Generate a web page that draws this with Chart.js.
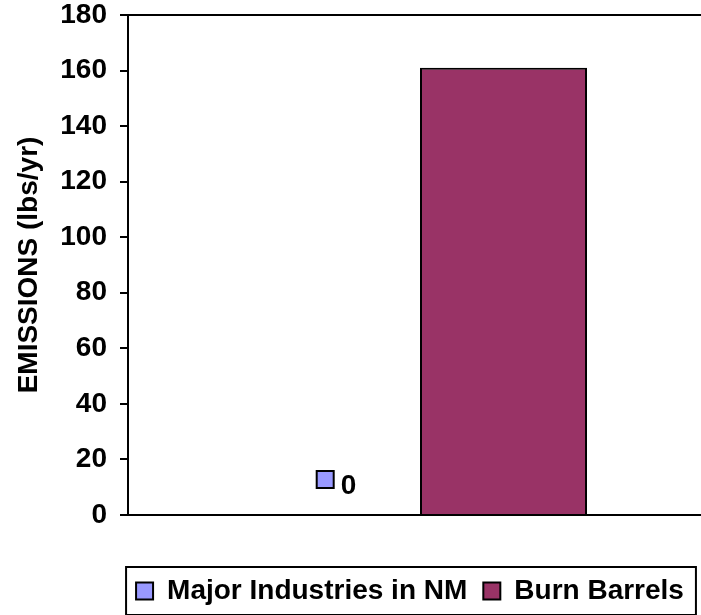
<!DOCTYPE html>
<html>
<head>
<meta charset="utf-8">
<script src="https://cdn.jsdelivr.net/npm/chart.js@4"></script>
<style>
  body { margin: 0; background: #fff; overflow: hidden; }
</style>
</head>
<body>
<canvas id="myChart" width="712" height="615"></canvas>
<script>
// chart values
var categories = [''];
var seriesNames = ['Major Industries in NM', 'Burn Barrels'];
var industries = [0];
var burnBarrels = [161];
var yTicks = [0, 20, 40, 60, 80, 100, 120, 140, 160, 180];

var boldFont = 'Arial, "Liberation Sans", sans-serif';

// label "0" with its small key, above the first bar
const valueLabel = {
    id: 'valueLabel',
    afterDatasetsDraw(chart) {
        const ctx = chart.ctx;
        const bar = chart.getDatasetMeta(0).data[0];
        const val = chart.data.datasets[0].data[0];
        ctx.save();
        ctx.font = 'bold 28px ' + boldFont;
        const text = String(val);
        const tw = ctx.measureText(text).width;
        const key = 17, gap = 7;
        const total = key + gap + tw;
        const x0 = bar.x - total / 2;
        ctx.fillStyle = chart.data.datasets[0].backgroundColor;
        ctx.fillRect(x0, bar.y - 44, key, key);
        ctx.strokeStyle = '#000';
        ctx.lineWidth = 2;
        ctx.strokeRect(x0, bar.y - 44, key, key);
        ctx.fillStyle = '#000';
        ctx.textBaseline = 'middle';
        ctx.textAlign = 'left';
        ctx.fillText(text, x0 + key + gap, bar.y - 29);
        ctx.restore();
    }
};

// move the legend a bit and draw its frame
const legendFrame = {
    id: 'legendFrame',
    afterLayout(chart) {
        const lg = chart.legend;
        lg.left -= 10;
        lg.right -= 10;
    },
    afterDraw(chart) {
        const lg = chart.legend;
        const boxes = lg.legendHitBoxes;
        if (!boxes || !boxes.length) return;
        const first = boxes[0], last = boxes[boxes.length - 1];
        const cy = first.top + first.height / 2;
        const ctx = chart.ctx;
        ctx.save();
        ctx.strokeStyle = '#000';
        ctx.lineWidth = 2;
        ctx.strokeRect(first.left - 10, cy - 24, last.left + last.width - first.left + 22, 48);
        ctx.restore();
    }
};

const ctx = document.getElementById('myChart').getContext('2d');
const myChart = new Chart(ctx, {
    type: 'bar',
    data: {
        labels: categories,
        datasets: [
            {
                label: seriesNames[0],
                data: industries,
                backgroundColor: '#9999FF',
                borderColor: '#000000',
                borderWidth: 2
            },
            {
                label: seriesNames[1],
                data: burnBarrels,
                backgroundColor: '#993366',
                borderColor: '#000000',
                borderWidth: 2
            }
        ]
    },
    options: {
        responsive: false,
        animation: false,
        layout: {
            padding: { left: 0, top: 0, right: 0, bottom: 0 }
        },
        categoryPercentage: 0.572,
        barPercentage: 1.0,
        plugins: {
            tooltip: { enabled: false },
            legend: {
                position: 'bottom',
                fullSize: false,
                labels: {
                    color: '#000',
                    font: { family: boldFont, size: 28, weight: 'bold' },
                    boxWidth: 17,
                    boxHeight: 17,
                    padding: 16,
                    generateLabels(chart) {
                        return chart.data.datasets.map((ds, i) => ({
                            text: ds.label,
                            fillStyle: ds.backgroundColor,
                            strokeStyle: '#000',
                            lineWidth: 2,
                            datasetIndex: i,
                            hidden: false,
                            fontColor: '#000'
                        }));
                    }
                }
            }
        },
        scales: {
            x: {
                ticks: { display: false },
                grid: { display: false },
                border: { color: '#000', width: 2 },
                afterFit(scale) { scale.height = 46; }
            },
            y: {
                min: 0,
                max: 180,
                afterBuildTicks(scale) {
                    scale.ticks = yTicks.map(v => ({ value: v }));
                },
                ticks: {
                    color: '#000',
                    padding: 13,
                    font: { family: boldFont, size: 28, weight: 'bold', lineHeight: 1 }
                },
                grid: {
                    color: c => (c.tick && c.tick.value === 180 ? '#000' : 'rgba(0,0,0,0)'),
                    tickColor: '#000',
                    tickLength: 8,
                    lineWidth: 2
                },
                border: { color: '#000', width: 2 },
                title: {
                    display: true,
                    text: 'EMISSIONS (lbs/yr)',
                    color: '#000',
                    font: { family: boldFont, size: 28, weight: 'bold' },
                    padding: { top: 12, bottom: 4 }
                },
                afterFit(scale) {
                    scale.width = 128;
                    scale.paddingTop = 15;
                    scale.paddingBottom = 0;
                }
            }
        }
    },
    plugins: [valueLabel, legendFrame]
});
</script>
</body>
</html>
